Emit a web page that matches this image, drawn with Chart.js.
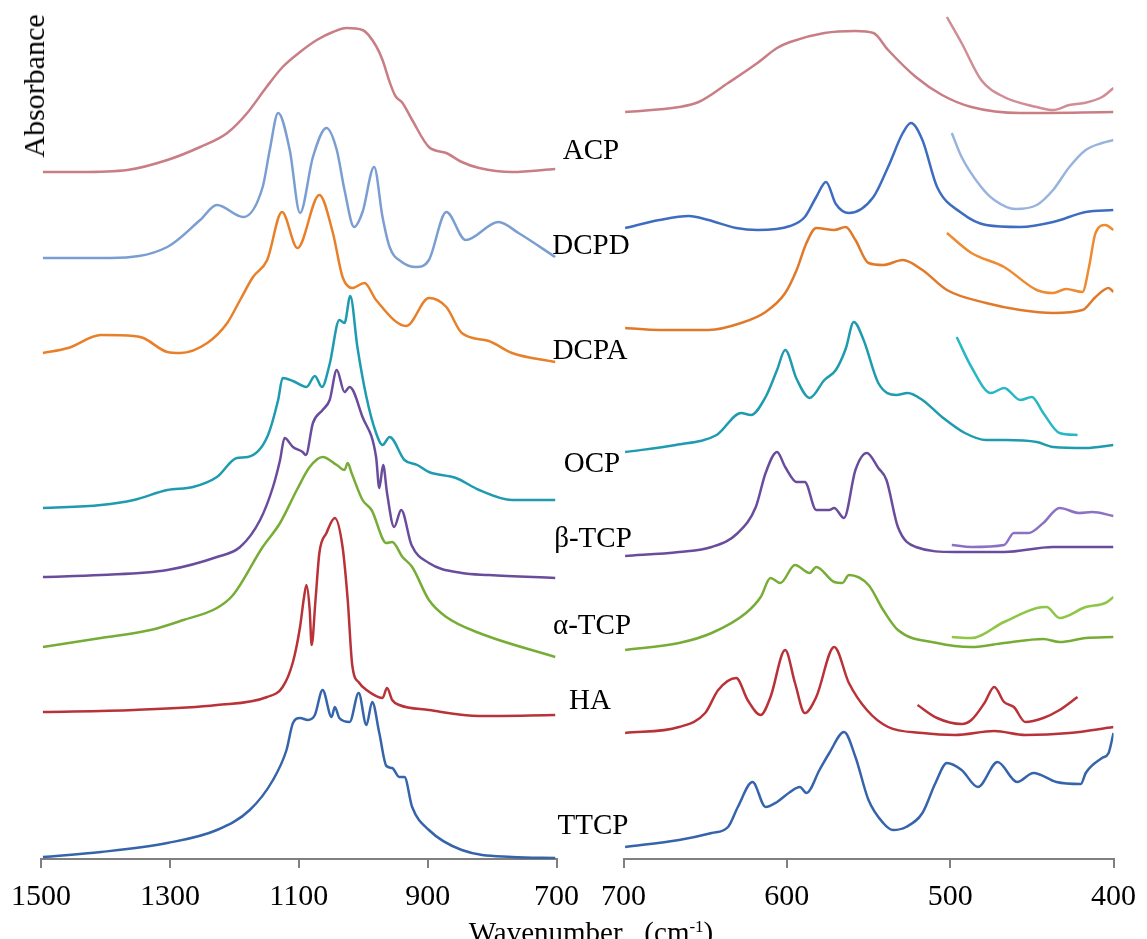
<!DOCTYPE html>
<html>
<head>
<meta charset="utf-8">
<script src="https://cdn.jsdelivr.net/npm/chart.js@4.4.1/dist/chart.umd.min.js"></script>
<style>
  body { margin: 0; background: #fff; width: 1147px; height: 939px; position: relative; overflow: hidden;
         font-family: 'Liberation Serif', 'Times New Roman', serif; color: #000; }
  canvas { position: absolute; top: 0; }
  #left { left: 0; }
  #right { left: 590px; }
  .lab { position: absolute; font-size: 29px; line-height: 1; white-space: nowrap; transform: translate(-50%, -50%); }
  #ytitle { position: absolute; left: 34px; top: 86px; font-size: 30px; line-height: 1; white-space: nowrap;
            transform: translate(-50%, -50%) rotate(-90deg); }
  #xtitle { position: absolute; left: 591px; top: 918px; font-size: 29px; line-height: 1; white-space: pre;
            transform: translateX(-50%); }
  #xtitle sup { font-size: 17px; vertical-align: 10px; line-height: 0; }
</style>
</head>
<body>
<canvas id="left" width="590" height="939"></canvas>
<canvas id="right" width="557" height="939"></canvas>
<div id="ytitle">Absorbance</div>
<div id="xtitle">Wavenumber   (cm<sup>-1</sup>)</div>
<script>
// sample names, top to bottom
const names = ['ACP', 'DCPD', 'DCPA', 'OCP', 'β-TCP', 'α-TCP', 'HA', 'TTCP'];

// [wavenumber cm-1, absorbance a.u. (stacked, offsets included)]
// 1500-700 cm-1 region
const acpHi = [[1497,687],[1440,687],[1366,689],[1304,699],[1253,712],[1211,726],[1180,746],[1150,772],[1125,792],[1098,807],[1072,819],[1047,827],[1026,831],[1001,829],[980,813],[970,799],[959,777],[950,763],[939,756],[924,739],[898,712],[871,706],[847,697],[820,691],[769,687],[702,690]];
const dcpdHi = [[1497,601],[1392,601],[1304,612],[1253,639],[1227,654],[1186,642],[1156,672],[1145,709],[1132,746],[1114,709],[1098,646],[1078,702],[1057,731],[1041,709],[1029,669],[1014,632],[1001,647],[983,692],[970,642],[959,612],[940,597],[918,592],[898,599],[871,647],[841,619],[790,637],[759,626],[702,602]];
const dcpaHi = [[1497,506],[1458,511],[1407,524],[1356,523],[1341,521],[1304,507],[1284,506],[1242,516],[1211,536],[1191,559],[1171,582],[1149,599],[1126,647],[1102,611],[1068,664],[1047,626],[1032,582],[1017,571],[998,576],[980,559],[933,533],[898,561],[871,552],[847,526],[805,518],[769,506],[702,497]];
const ocpHi = [[1497,351],[1407,354],[1356,359],[1304,369],[1264,372],[1227,382],[1196,401],[1179,402],[1149,422],[1132,459],[1125,481],[1109,478],[1088,472],[1075,483],[1064,472],[1052,495],[1037,539],[1029,536],[1020,563],[1009,512],[995,462],[980,426],[970,414],[959,422],[936,399],[916,394],[898,387],[856,381],[820,369],[769,359],[702,359]];
const btcpHi = [[1497,282],[1407,284],[1304,289],[1227,302],[1191,312],[1160,339],[1140,372],[1129,399],[1122,421],[1109,412],[1094,407],[1089,404],[1078,436],[1063,449],[1052,459],[1041,489],[1029,467],[1021,472],[1001,442],[980,402],[975,371],[969,394],[963,366],[952,332],[941,349],[925,314],[898,296],[847,286],[805,284],[702,281]];
const atcpHi = [[1497,212],[1407,221],[1330,229],[1279,239],[1227,251],[1202,264],[1156,312],[1129,336],[1103,369],[1083,392],[1063,402],[1041,394],[1029,389],[1024,396],[1018,386],[1001,359],[987,349],[964,316],[955,317],[939,302],[924,292],[898,259],[871,242],[820,226],[702,202]];
const haHi = [[1497,147],[1356,149],[1227,154],[1149,162],[1125,172],[1109,197],[1098,232],[1092,261],[1088,274],[1083,249],[1080,214],[1074,259],[1068,306],[1057,326],[1044,341],[1032,312],[1024,259],[1017,194],[1006,176],[995,169],[970,161],[963,171],[955,159],[944,154],[898,149],[820,143],[702,144]];
const ttcpHi = [[1497,2],[1407,7],[1304,16],[1227,29],[1176,49],[1140,79],[1119,109],[1109,136],[1098,141],[1086,139],[1075,144],[1063,169],[1049,142],[1044,152],[1037,141],[1021,137],[1007,166],[995,134],[986,157],[975,126],[964,93],[955,91],[944,82],[936,82],[924,52],[898,29],[847,9],[769,2],[702,1]];

// 700-400 cm-1 region
const acpLo = [[699,747],[666,752],[654,757],[636,776],[618,796],[606,811],[598,817],[577,826],[558,828],[547,826],[538,809],[521,782],[505,764],[487,752],[457,746],[400,747]];
const acpLoZoom = [[502,842],[493,816],[481,779],[467,762],[447,752],[437,749],[427,754],[418,756],[407,762],[400,771]];
const dcpdLo = [[699,631],[678,639],[660,643],[648,639],[631,631],[618,629],[598,633],[589,642],[582,662],[576,677],[570,655],[562,646],[547,662],[538,692],[529,726],[524,736],[517,719],[508,672],[493,646],[478,634],[457,632],[437,637],[417,647],[400,649]];
const dcpdLoZoom = [[499,726],[493,702],[481,672],[473,659],[460,650],[447,654],[437,669],[427,692],[417,709],[407,716],[400,719]];
const dcpaLo = [[699,531],[678,529],[648,529],[628,536],[613,547],[601,566],[594,589],[588,616],[582,631],[571,629],[564,632],[558,619],[550,596],[541,594],[529,599],[517,589],[502,569],[478,556],[457,549],[437,546],[419,549],[411,562],[403,571],[400,567]];
const dcpaLoZoom = [[502,626],[487,606],[467,592],[447,569],[437,566],[429,570],[419,567],[415,592],[411,626],[405,634],[400,629]];
const ocpLo = [[699,407],[668,414],[643,424],[628,446],[622,444],[613,462],[606,489],[601,509],[594,480],[586,461],[577,479],[570,489],[564,510],[559,537],[553,519],[544,476],[533,464],[526,466],[517,459],[505,442],[491,426],[478,419],[466,419],[447,417],[437,412],[417,411],[400,414]];
const ocpLoZoom = [[496,522],[487,492],[475,466],[467,471],[457,459],[450,462],[443,446],[433,426],[422,424]];
const btcpLo = [[699,303],[666,307],[646,312],[630,326],[619,352],[613,386],[606,407],[601,392],[594,377],[589,377],[582,349],[574,349],[571,351],[565,341],[558,389],[551,406],[544,391],[539,379],[532,332],[521,312],[497,307],[467,307],[437,312],[400,312]];
const btcpLoZoom = [[499,314],[487,312],[467,314],[461,326],[452,326],[443,336],[433,351],[421,346],[413,347],[400,343]];
const atcpLo = [[699,209],[666,216],[646,226],[625,246],[616,262],[610,281],[604,276],[595,294],[586,286],[582,292],[571,277],[566,276],[562,284],[550,274],[541,249],[532,229],[508,216],[487,212],[467,216],[443,220],[433,217],[417,221],[400,222]];
const atcpLoZoom = [[499,222],[487,221],[467,237],[447,251],[441,252],[433,241],[417,252],[405,256],[400,262]];
const haLo = [[699,126],[666,132],[650,146],[642,169],[631,181],[624,159],[616,144],[610,162],[601,209],[595,176],[589,146],[582,162],[571,212],[562,176],[551,149],[538,132],[517,126],[497,124],[473,128],[454,124],[427,126],[400,132]];
const haLoZoom = [[520,154],[508,141],[493,135],[487,139],[479,156],[473,172],[467,157],[461,152],[454,137],[443,141],[433,149],[422,162]];
const ttcpLo = [[699,12],[666,19],[646,26],[636,32],[630,52],[621,77],[613,52],[606,57],[598,67],[592,72],[588,66],[580,89],[574,106],[565,127],[558,102],[550,59],[541,36],[535,29],[527,32],[517,46],[509,76],[502,96],[493,89],[483,72],[471,97],[459,77],[449,86],[435,77],[420,75],[417,86],[407,101],[403,106],[400,126]];

// label centres between the two panels (page px)
const labelPos = [[591,149],[591,244],[590,349],[592,462],[593,537],[592,624],[590,699],[593,824]];

function ds(pairs, color) {
  return { data: pairs.map(p => ({ x: p[0], y: p[1] })), borderColor: color, borderWidth: 2.5,
           pointRadius: 0, fill: false, cubicInterpolationMode: 'monotone' };
}

function makeChart(id, sets, min, max, step, padL, padR) {
  return new Chart(document.getElementById(id), {
    type: 'line',
    data: { datasets: sets },
    options: {
      responsive: false,
      animation: false,
      layout: { autoPadding: false, padding: { left: padL, right: padR, top: 9, bottom: 0 } },
      plugins: { legend: { display: false }, tooltip: { enabled: false } },
      scales: {
        x: {
          type: 'linear', reverse: true, min: min, max: max,
          ticks: { stepSize: step, autoSkip: false, maxRotation: 0, color: '#000', padding: 11,
                   font: { family: 'Liberation Serif', size: 30 },
                   callback: v => String(v) },
          grid: { display: true, drawOnChartArea: false, drawTicks: true, tickLength: 9,
                  color: '#808080', lineWidth: 2 },
          border: { display: true, color: '#808080', width: 2 },
          afterFit: s => { s.height = 80; }
        },
        y: { display: false, min: 0, max: 850 }
      }
    }
  });
}

makeChart('left', [
  ds(acpHi, '#c97d85'), ds(dcpdHi, '#7b9ed2'), ds(dcpaHi, '#e8802a'), ds(ocpHi, '#1f9bb0'),
  ds(btcpHi, '#6a4c9c'), ds(atcpHi, '#77ad36'), ds(haHi, '#b83238'), ds(ttcpHi, '#3564ab')
], 700, 1500, 200, 40, 30);

makeChart('right', [
  ds(acpLo, '#c97d85'), ds(acpLoZoom, '#d08d96'),
  ds(dcpdLo, '#3d6cc0'), ds(dcpdLoZoom, '#98b4dd'),
  ds(dcpaLo, '#e07a2a'), ds(dcpaLoZoom, '#ee8a32'),
  ds(ocpLo, '#1f9bb0'), ds(ocpLoZoom, '#27b7c7'),
  ds(btcpLo, '#6a4c9c'), ds(btcpLoZoom, '#8c70c4'),
  ds(atcpLo, '#77ad36'), ds(atcpLoZoom, '#8ec646'),
  ds(haLo, '#b83238'), ds(haLoZoom, '#b83238'),
  ds(ttcpLo, '#3564ab')
], 400, 700, 100, 33, 25);

names.forEach((n, i) => {
  const d = document.createElement('div');
  d.className = 'lab';
  d.textContent = n;
  d.style.left = labelPos[i][0] + 'px';
  d.style.top = labelPos[i][1] + 'px';
  document.body.appendChild(d);
});
</script>
</body>
</html>
